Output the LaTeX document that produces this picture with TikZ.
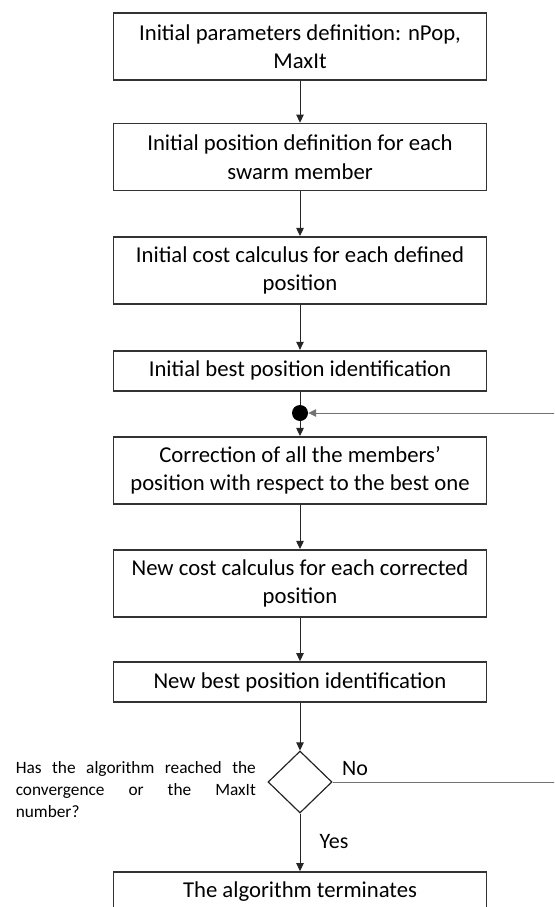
\documentclass[tikz,border=0pt]{standalone}
\usepackage{fontspec}
\setmainfont{Carlito}
\usetikzlibrary{arrows.meta,positioning,shapes.geometric}

\begin{document}
\begin{tikzpicture}[x=1pt, y=-1pt, >={Triangle[length=8pt,width=7.5pt]}, every node/.style={align=center}, line/.style={->, line width=0.9pt, draw=black!85}]

% styles
\tikzset{
  stage/.style={rectangle, draw=black!80, line width=1.7pt, minimum width=373pt, minimum height=67pt, inner sep=2pt, font=\fontsize{22.7}{28.5}\selectfont},
  stageone/.style={stage, minimum height=40pt},
  junction/.style={circle, fill=black, inner sep=0pt, minimum size=16pt},
  decision/.style={diamond, draw=black!85, line width=1.2pt, minimum width=64pt, minimum height=62pt, inner sep=0pt},
  question/.style={text width=240pt, align=justify, inner sep=0pt, font=\fontsize{17.3}{22}\selectfont},
  answer/.style={inner sep=0pt, font=\fontsize{22}{26}\selectfont},
  feedback/.style={line width=0.9pt, draw=black!55}
}

% page frame, the loop runs off the right edge
\useasboundingbox (0,0) rectangle (554,907);
\clip (0,0) rectangle (554,907);

% Absolute-positioned nodes, one column
\node[stage] (A) at (300,46.5) {Initial parameters definition: nPop,\\MaxIt};
\node[stage] (B) at (300,157) {Initial position definition for each\\swarm member};
\node[stage] (C) at (300,270.3) {Initial cost calculus for each defined\\position};
\node[stageone] (D) at (300,370.7) {Initial best position identification};

\node[junction] (J) at (300,413) {};

\node[stage] (E) at (300,470.3) {Correction of all the members’\\position with respect to the best one};
\node[stage] (F) at (300,583.3) {New cost calculus for each corrected\\position};
\node[stageone] (G) at (300,682) {New best position identification};

\node[decision] (Q) at (300,782) {};
\node[question, anchor=east] (T) at (256,790) {Has the algorithm reached the\linebreak convergence or the MaxIt\linebreak number?};

\node[stageone] (H) at (300,892) {The algorithm terminates};

% answers
\node[answer] (no) at (355,769) {No};
\node[answer] (yes) at (334,842) {Yes};

% main flow
\draw[line] (A) -- (B);
\draw[line] (B) -- (C);
\draw[line] (C) -- (D);
\draw[line, -] (D) -- (J);
\draw[line] (J) -- (E);
\draw[line] (E) -- (F);
\draw[line] (F) -- (G);
\draw[line] (G) -- (Q);
\draw[line] (Q) -- (H);

% loop back to the junction, vertical leg lies beyond the page edge
\coordinate (rt) at (575,0);
\draw[feedback, ->] (Q.east) -- (Q.east -| rt) |- (J.east);

\end{tikzpicture}
\end{document}
